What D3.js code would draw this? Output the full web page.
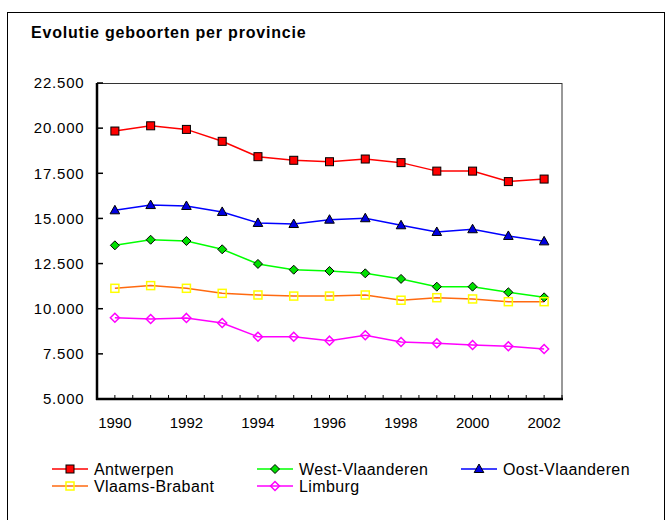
<!DOCTYPE html>
<html>
<head>
<meta charset="utf-8">
<script src="https://cdn.jsdelivr.net/npm/d3@7"></script>
<style>
  body { margin: 0; background: #fff; font-family: "Liberation Sans", Arial, sans-serif; }
  svg { display: block; }
</style>
</head>
<body>
<svg id="chart" width="667" height="520"></svg>
<script>
// Births per province, Flanders
const years = [1990, 1991, 1992, 1993, 1994, 1995, 1996, 1997, 1998, 1999, 2000, 2001, 2002];
const antwerpen      = [19840, 20130, 19930, 19270, 18420, 18220, 18140, 18290, 18090, 17620, 17620, 17040, 17180];
const westVlaanderen = [13510, 13820, 13750, 13290, 12480, 12160, 12090, 11960, 11650, 11220, 11220, 10910, 10630];
const oostVlaanderen = [15450, 15740, 15690, 15360, 14750, 14690, 14930, 15010, 14620, 14250, 14400, 14030, 13730];
const vlaamsBrabant  = [11130, 11280, 11130, 10850, 10760, 10700, 10700, 10760, 10470, 10610, 10540, 10390, 10390];
const limburg        = [9500, 9430, 9490, 9210, 8450, 8450, 8230, 8530, 8160, 8090, 7990, 7920, 7770];
const yTicks = [5000, 7500, 10000, 12500, 15000, 17500, 20000, 22500];
const xLabels = [1990, 1992, 1994, 1996, 1998, 2000, 2002];

const series = [
  { name: "Antwerpen", values: antwerpen, line: "#ff0000", marker: "square", fill: "#ff0000", stroke: "#000" },
  { name: "West-Vlaanderen", values: westVlaanderen, line: "#00ff00", marker: "diamond", fill: "#00e000", stroke: "#000" },
  { name: "Oost-Vlaanderen", values: oostVlaanderen, line: "#0000ff", marker: "triangle", fill: "#0000e0", stroke: "#000" },
  { name: "Vlaams-Brabant", values: vlaamsBrabant, line: "#ff6a10", marker: "square", fill: "none", stroke: "#ffff00" },
  { name: "Limburg", values: limburg, line: "#ff00ff", marker: "diamond", fill: "none", stroke: "#ff00ff" }
];

const svg = d3.select("#chart");
const plot = { left: 97, top: 83, right: 562, bottom: 399 };

// outer frame
svg.append("rect").attr("x", 7.5).attr("y", 12.5).attr("width", 657).attr("height", 520)
  .attr("fill", "none").attr("stroke", "#000").attr("stroke-width", 1);

svg.append("text").attr("x", 31).attr("y", 38)
  .attr("font-size", 16).attr("font-weight", "bold").attr("letter-spacing", 0.8).attr("fill", "#000")
  .text("Evolutie geboorten per provincie");

const x = d3.scaleBand().domain(years).range([plot.left, plot.right]);
const y = d3.scaleLinear().domain([5000, 22500]).range([plot.bottom, plot.top]);
const cx = d => x(d) + x.bandwidth() / 2;

// plot border
svg.append("rect").attr("x", plot.left).attr("y", plot.top + 0.5)
  .attr("width", plot.right - plot.left).attr("height", plot.bottom - plot.top)
  .attr("fill", "none").attr("stroke", "#333").attr("stroke-width", 1);

const fmt = v => d3.format(",")(v).replace(/,/g, ".");

// y axis
const yAxis = svg.append("g");
yAxis.selectAll("line.tick").data(yTicks).join("line")
  .attr("x1", plot.left).attr("x2", plot.left + 6)
  .attr("y1", d => y(d)).attr("y2", d => y(d))
  .attr("stroke", "#000").attr("stroke-width", 1.5);
yAxis.selectAll("text").data(yTicks).join("text")
  .attr("x", 84.5).attr("y", d => y(d)).attr("dy", "0.35em")
  .attr("text-anchor", "end").attr("font-size", 15).attr("letter-spacing", 0.8).text(fmt);
svg.append("line").attr("x1", plot.left).attr("x2", plot.left)
  .attr("y1", plot.top).attr("y2", plot.bottom + 1)
  .attr("stroke", "#000").attr("stroke-width", 2.5);

// x axis ticks at category centres and boundaries
const xTickPos = [];
years.forEach(yr => { xTickPos.push(x(yr)); xTickPos.push(cx(yr)); });
xTickPos.push(plot.right);
svg.append("g").selectAll("line").data(xTickPos).join("line")
  .attr("x1", d => d).attr("x2", d => d)
  .attr("y1", plot.bottom).attr("y2", plot.bottom - 4)
  .attr("stroke", "#000").attr("stroke-width", 1);
svg.append("line").attr("x1", plot.left - 1).attr("x2", plot.right + 1)
  .attr("y1", plot.bottom).attr("y2", plot.bottom)
  .attr("stroke", "#000").attr("stroke-width", 2.5);
svg.append("g").selectAll("text").data(xLabels).join("text")
  .attr("x", d => cx(d)).attr("y", 423).attr("dy", "0.35em")
  .attr("text-anchor", "middle").attr("font-size", 15).text(d => d);

function drawMarker(g, type, s) {
  let m;
  if (type === "square") {
    m = g.append("rect").attr("x", -4).attr("y", -4).attr("width", 8).attr("height", 8);
  } else if (type === "diamond") {
    m = g.append("path").attr("d", "M0,-4.5L4.5,0L0,4.5L-4.5,0Z");
  } else {
    m = g.append("path").attr("d", "M0,-5L4.8,3.5L-4.8,3.5Z");
  }
  m.attr("fill", s.fill).attr("stroke", s.stroke).attr("stroke-width", s.fill === "none" ? 1.5 : 1);
}

const line = d3.line().x((d, i) => cx(years[i])).y(d => y(d));

series.forEach(s => {
  svg.append("path").datum(s.values).attr("d", line)
    .attr("fill", "none").attr("stroke", s.line).attr("stroke-width", 1.5);
});
series.forEach(s => {
  s.values.forEach((v, i) => {
    const g = svg.append("g").attr("transform", `translate(${cx(years[i])},${y(v)})`);
    drawMarker(g, s.marker, s);
  });
});

// legend
const legendCols = [52, 257, 461];
const legendRows = [469, 486];
series.forEach((s, i) => {
  const lx = legendCols[i % 3], ly = legendRows[Math.floor(i / 3)];
  const g = svg.append("g");
  g.append("line").attr("x1", lx).attr("x2", lx + 36).attr("y1", ly).attr("y2", ly)
    .attr("stroke", s.line).attr("stroke-width", 1.5);
  const mg = g.append("g").attr("transform", `translate(${lx + 18},${ly})`);
  drawMarker(mg, s.marker, s);
  g.append("text").attr("x", lx + 42).attr("y", ly).attr("dy", "0.35em")
    .attr("font-size", 16).attr("letter-spacing", 0.4).text(s.name);
});
</script>
</body>
</html>
